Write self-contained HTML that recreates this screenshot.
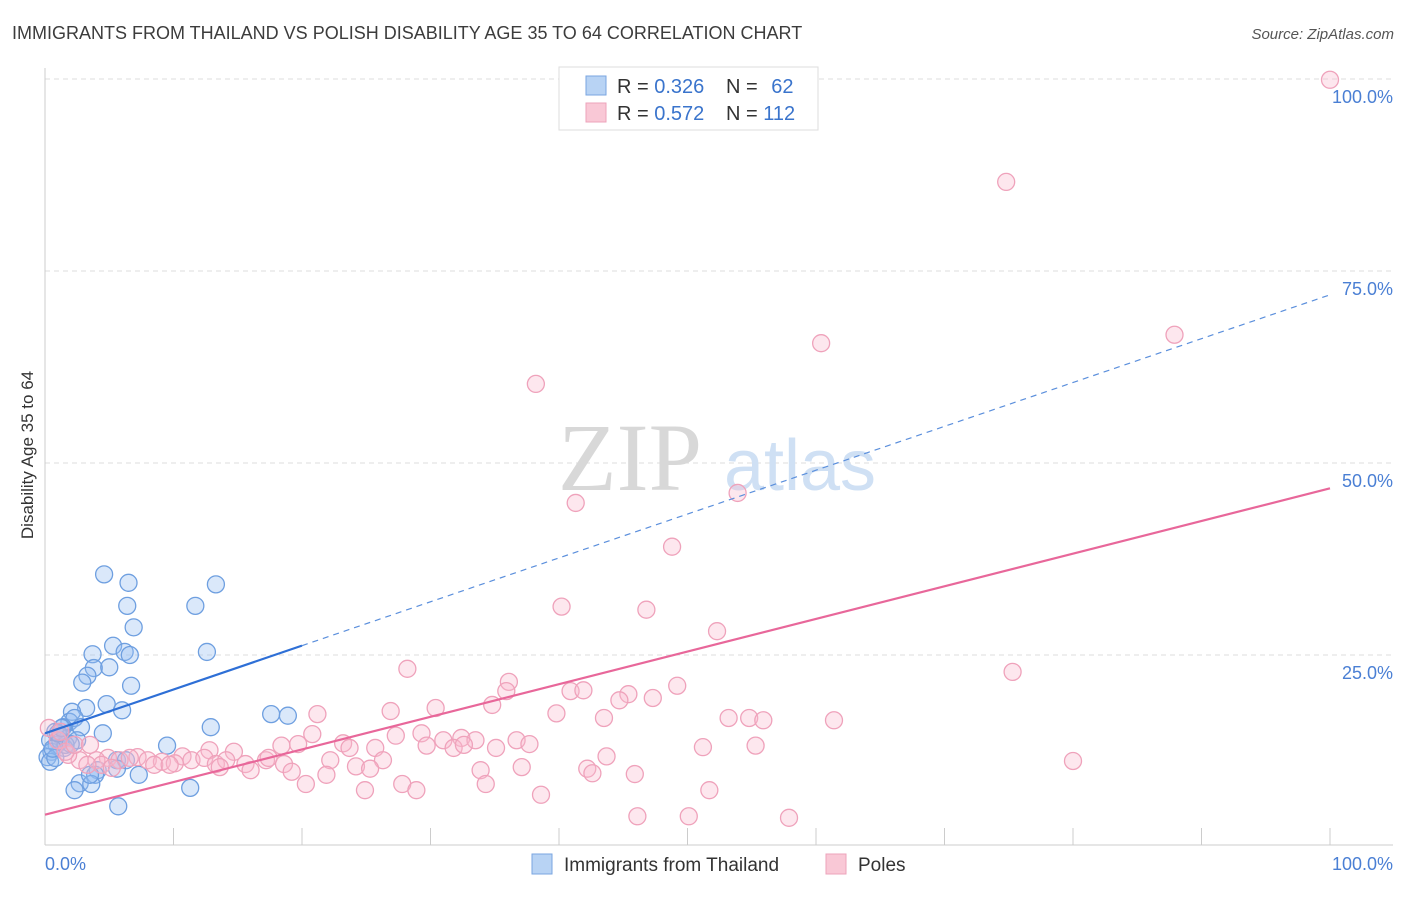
<!DOCTYPE html>
<html><head><meta charset="utf-8"><style>
body{margin:0;background:#fff;font-family:"Liberation Sans",sans-serif;}
svg text{font-family:"Liberation Sans",sans-serif;}
</style></head><body>
<svg id="chart" width="1406" height="892">
<text x="12" y="39" font-size="18" fill="#3c3c3c">IMMIGRANTS FROM THAILAND VS POLISH DISABILITY AGE 35 TO 64 CORRELATION CHART</text>
<text x="1394" y="39" font-size="15" fill="#555" font-style="italic" text-anchor="end">Source: ZipAtlas.com</text>
<g id="grid"></g>
<text x="630" y="490" font-size="96" fill="#d8d8d8" font-family="Liberation Serif" text-anchor="middle" style="font-family:'Liberation Serif',serif">ZIP</text>
<text x="800" y="490" font-size="72" fill="#cfe0f4" text-anchor="middle">atlas</text>
<g id="axes"></g>
<g id="marks"></g>
<text transform="translate(33,455) rotate(-90)" font-size="17" fill="#333" text-anchor="middle">Disability Age 35 to 64</text>
<text x="45" y="870" font-size="18" fill="#4a7fd4">0.0%</text>
<text x="1393" y="870" font-size="18" fill="#4a7fd4" text-anchor="end">100.0%</text>
<g>
<rect x="559" y="67" width="259" height="63" fill="#fff" stroke="#ddd"/>
<rect x="586" y="76" width="20" height="19" fill="#b8d3f4" stroke="#7aa6e0"/>
<rect x="586" y="103" width="20" height="19" fill="#f9c8d6" stroke="#eda3bb"/>
<text x="617" y="93" font-size="20" fill="#333">R = <tspan fill="#3a74cc">0.326</tspan></text>
<text x="726" y="93" font-size="20" fill="#333">N = <tspan fill="#3a74cc" dx="8">62</tspan></text>
<text x="617" y="120" font-size="20" fill="#333">R = <tspan fill="#3a74cc">0.572</tspan></text>
<text x="726" y="120" font-size="20" fill="#333">N = <tspan fill="#3a74cc">112</tspan></text>
</g>
<g>
<rect x="532" y="854" width="20" height="20" fill="#b8d3f4" stroke="#7aa6e0"/>
<text x="564" y="871" font-size="19" fill="#333">Immigrants from Thailand</text>
<rect x="826" y="854" width="20" height="20" fill="#f9c8d6" stroke="#eda3bb"/>
<text x="858" y="871" font-size="19" fill="#333">Poles</text>
</g>
</svg>
<script>
const yTicks=[25,50,75,100];
const yTickLabels=["25.0%","50.0%","75.0%","100.0%"];
const xTicks=[0,10,20,30,40,50,60,70,80,90,100];
const blueX=[4.6,6.5,13.3,6.4,11.7,6.9,5.3,6.2,3.7,6.6,12.6,3.8,5.0,3.3,2.9,6.7,4.8,6.0,3.2,2.1,1.9,2.3,12.9,17.6,18.9,2.8,1.4,0.8,1.2,1.8,2.5,4.5,0.4,0.9,1.5,0.5,0.2,0.4,0.8,9.5,5.6,6.3,4.1,3.9,5.6,7.3,2.7,2.3,3.6,11.3,5.7,1.2,1.6,0.6,2.0,1.0,1.3,3.5];
const blueY=[35.5,34.4,34.2,31.4,31.4,28.6,26.2,25.4,25.1,25.0,25.4,23.3,23.4,22.3,21.4,21.0,18.6,17.8,18.1,17.6,16.3,16.8,15.6,17.3,17.1,15.6,15.6,15.0,14.5,14.2,13.9,14.8,13.9,13.3,12.9,12.4,11.7,11.1,11.6,13.2,11.3,11.3,10.0,9.4,10.2,9.4,8.3,7.4,8.2,7.7,5.3,13.8,13.3,12.8,13.4,14.8,15.5,9.4];
const pinkX=[100,74.8,60.4,87.9,38.2,53.9,41.3,48.8,40.2,46.8,52.3,75.3,28.2,36.1,49.2,35.9,40.9,41.9,45.4,44.7,47.3,34.8,30.4,21.2,26.9,39.8,43.5,53.2,54.8,55.9,61.4,20.8,27.3,29.3,31.0,32.4,33.5,23.2,23.7,25.7,29.7,31.8,32.6,35.1,36.7,37.7,51.2,55.3,19.7,18.4,12.8,14.7,10.7,7.2,4.9,2.7,1.8,0.3,1.0,1.6,4.0,5.8,6.6,8.0,9.1,10.1,11.4,12.4,13.3,14.1,15.6,17.2,17.4,18.6,4.4,3.3,8.5,9.7,16.0,13.6,19.2,22.2,24.2,26.3,21.9,25.3,33.9,37.1,42.2,43.7,42.6,45.9,80.0,20.3,24.9,27.8,28.9,34.3,38.6,51.7,46.1,50.1,57.9,1.2,2.3,3.5,5.2];
const pinkY=[99.9,86.6,65.6,66.7,60.3,46.1,44.8,39.1,31.3,30.9,28.1,22.8,23.2,21.5,21.0,20.3,20.3,20.4,19.9,19.1,19.4,18.5,18.1,17.3,17.7,17.4,16.8,16.8,16.8,16.5,16.5,14.7,14.5,14.8,13.9,14.2,13.9,13.5,12.9,12.9,13.2,12.9,13.3,12.9,13.9,13.4,13.0,13.2,13.4,13.2,12.6,12.4,11.8,11.7,11.6,11.3,12.0,15.5,13.9,12.4,11.3,11.3,11.6,11.3,11.1,10.9,11.3,11.6,10.8,11.3,10.8,11.3,11.6,10.8,10.7,10.7,10.7,10.7,10.0,10.4,9.8,11.3,10.5,11.3,9.4,10.2,10.0,10.4,10.2,11.8,9.6,9.5,11.2,8.2,7.4,8.2,7.4,8.2,6.8,7.4,4.0,4.0,3.8,15.0,13.3,13.3,10.3];
const blueTrend=[14.8,71.9];
const pinkTrend=[4.2,46.7];
const NS="http://www.w3.org/2000/svg";
const X=v=>45+v*12.85, Y=v=>847-v*7.68;
function mk(tag,attrs,parent){const e=document.createElementNS(NS,tag);for(const k in attrs)e.setAttribute(k,attrs[k]);parent.appendChild(e);return e;}
const grid=document.getElementById('grid'),axes=document.getElementById('axes'),marks=document.getElementById('marks');
yTicks.forEach((t,i)=>{
 const l=mk('line',{x1:45,x2:1393,y1:Y(t),y2:Y(t),stroke:'#ddd','stroke-dasharray':'5,4'},grid);
 
 
 const tx=mk('text',{x:1393,y:Y(t)+24,'font-size':18,fill:'#4a7fd4','text-anchor':'end'},axes);
 tx.textContent=yTickLabels[i];
 
 
});
const ya=mk('line',{x1:45,x2:45,y1:68,y2:845,stroke:'#ccc'},axes);


const xa=mk('line',{x1:45,x2:1393,y1:845,y2:845,stroke:'#ccc'},axes);


xTicks.forEach(t=>{
 const l=mk('line',{x1:X(t),x2:X(t),y1:828,y2:845,stroke:'#ccc'},axes);
 
 
});
blueX.forEach((v,i)=>{
 const c=mk('circle',{cx:X(v),cy:Y(blueY[i]),r:8.5,fill:'rgba(150,190,240,0.35)',stroke:'#6e9fe0','stroke-width':1.3},marks);
 
 
});
pinkX.forEach((v,i)=>{
 const c=mk('circle',{cx:X(v),cy:Y(pinkY[i]),r:8.5,fill:'rgba(248,185,205,0.35)',stroke:'#efa2bb','stroke-width':1.3},marks);
 
 
});
const bAt=x=>blueTrend[0]+(blueTrend[1]-blueTrend[0])*x/100;
const bs=mk('line',{x1:X(0),y1:Y(bAt(0)),x2:X(20),y2:Y(bAt(20)),stroke:'#2e6fd6','stroke-width':2.2},marks);


const bd=mk('line',{x1:X(20),y1:Y(bAt(20)),x2:X(100),y2:Y(bAt(100)),stroke:'#5b8fdc','stroke-width':1.2,'stroke-dasharray':'6,5'},marks);


const pl=mk('line',{x1:X(0),y1:Y(pinkTrend[0]),x2:X(100),y2:Y(pinkTrend[1]),stroke:'#e8679a','stroke-width':2.2},marks);


</script>
</body></html>
